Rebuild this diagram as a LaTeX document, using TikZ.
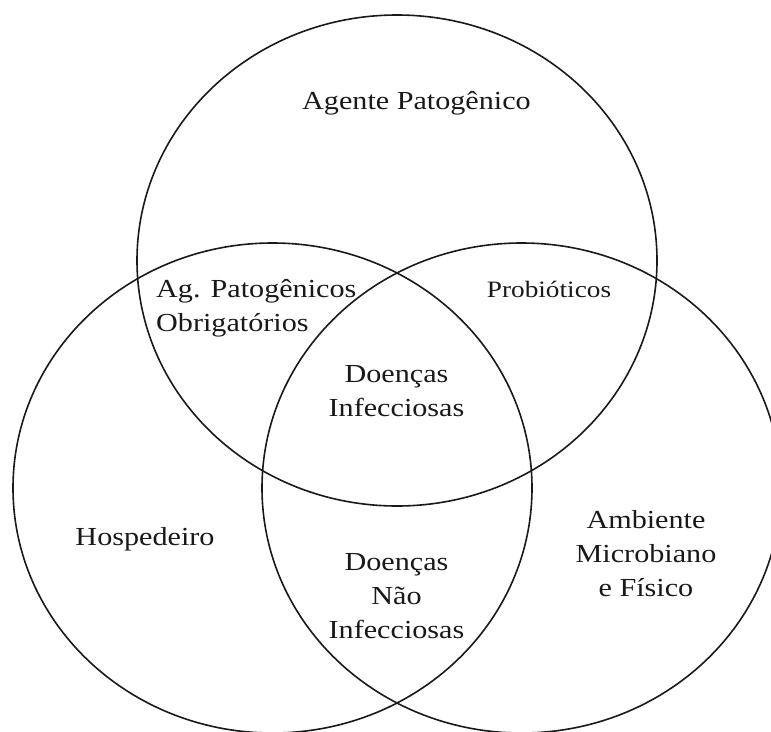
\documentclass[tikz,border=0pt]{standalone}
\usepackage{fontspec}
\setmainfont{Liberation Serif}[FakeStretch=1.16]
\begin{document}
\begin{tikzpicture}[x=1pt,y=-1pt,
  ring/.style={draw=black!90,line width=1.6pt},
  lbl/.style={font=\fontsize{26}{34}\selectfont, align=center, inner sep=0pt, text=black!90},
  small/.style={font=\fontsize{23.5}{30}\selectfont}]
\useasboundingbox (0,0) rectangle (771,731);
\begin{scope}
\clip (0,0) rectangle (771,731);
\draw[ring] (397,260.5) ellipse [x radius=260pt, y radius=245.5pt];
\draw[ring] (272.5,488) ellipse [x radius=259.5pt, y radius=245pt];
\draw[ring] (521.5,488) ellipse [x radius=259.5pt, y radius=245pt];
\end{scope}
\node[lbl] (agente) at (416.5,103) {Agente Patogênico};
\node[lbl, align=left, anchor=west] (obrig) at (156,308) {Ag. Patogênicos\\Obrigatórios};
\node[lbl, small] (probio) at (549,289) {Probióticos};
\node[lbl] (infec) at (396.5,391) {Doenças\\Infecciosas};
\node[lbl] (hosp) at (145,539) {Hospedeiro};
\node[lbl] (naoinf) at (396.5,596) {Doenças\\Não\\Infecciosas};
\node[lbl] (amb) at (646,554) {Ambiente\\Microbiano\\e Físico};
\end{tikzpicture}
\end{document}
